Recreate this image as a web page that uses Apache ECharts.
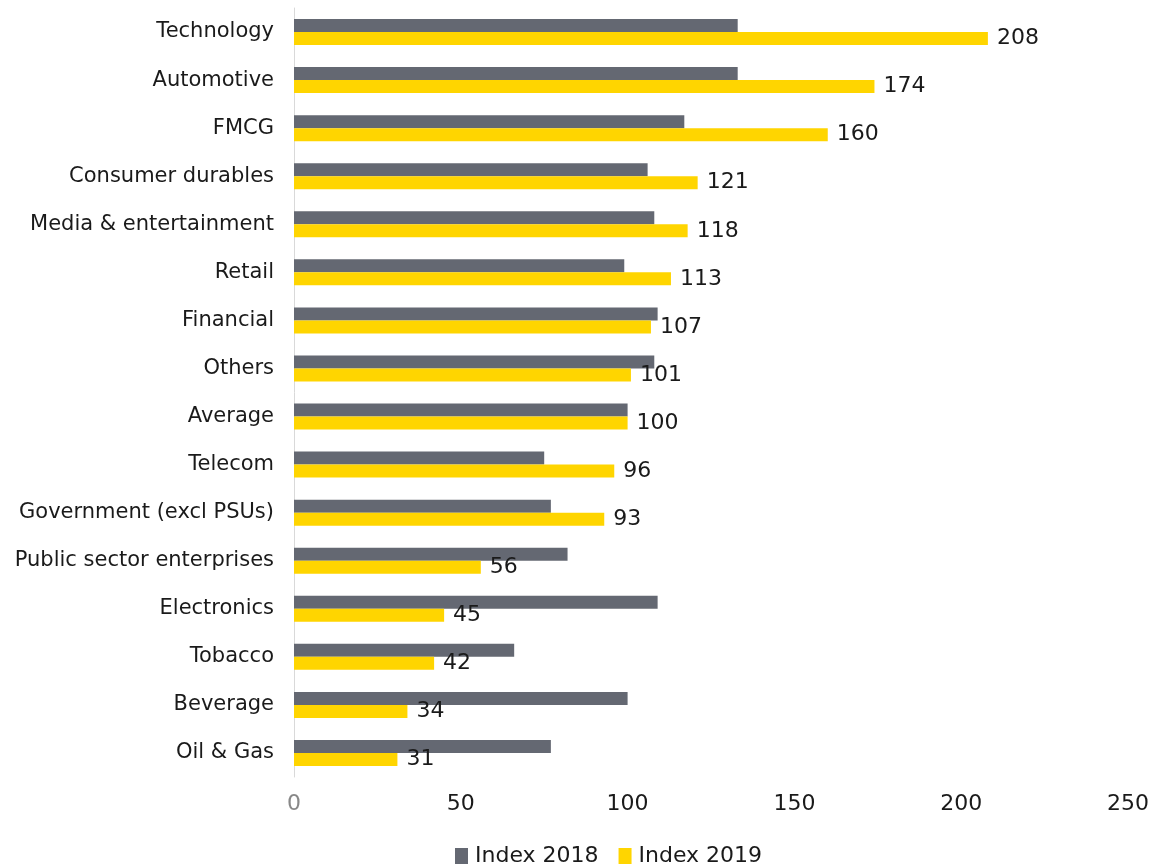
<!DOCTYPE html>
<html>
<head>
<meta charset="utf-8">
<script src="https://cdn.jsdelivr.net/npm/echarts@6/dist/echarts.min.js"></script>
<style>
  html, body { margin: 0; padding: 0; background: #fff; }
  #chart { width: 1159px; height: 868px; }
</style>
</head>
<body>
<div id="chart"></div>
<script>
const categories = ['Technology', 'Automotive', 'FMCG', 'Consumer durables', 'Media & entertainment',
  'Retail', 'Financial', 'Others', 'Average', 'Telecom', 'Government (excl PSUs)',
  'Public sector enterprises', 'Electronics', 'Tobacco', 'Beverage', 'Oil & Gas']
const index2018 = [133, 133, 117, 106, 108, 99, 109, 108, 100, 75, 77, 82, 109, 66, 100, 77]
const index2019 = [208, 174, 160, 121, 118, 113, 107, 101, 100, 96, 93, 56, 45, 42, 34, 31]
const xTicks = [0, 50, 100, 150, 200, 250]

const font = 'DejaVu Sans'
const myEcharts = echarts.init(document.getElementById('chart'))
myEcharts.setOption({
  animation: false,
  textStyle: { fontFamily: font },
  grid: { left: 294, right: 31, top: 8, bottom: 91, containLabel: false },
  legend: {
    top: 840,
    left: 450,
    itemWidth: 13,
    itemHeight: 16,
    itemGap: 20,
    icon: 'rect',
    textStyle: { fontSize: 22, color: '#1a1a1a', fontFamily: font, padding: [0, 0, 0, 2] },
    data: ['Index 2018', 'Index 2019']
  },
  xAxis: {
    type: 'value',
    min: xTicks[0],
    max: xTicks[xTicks.length - 1],
    interval: 50,
    axisLine: { show: false },
    axisTick: { show: false },
    splitLine: { show: false },
    axisLabel: {
      fontSize: 22,
      margin: 16,
      color: '#1a1a1a',
      formatter: v => v === 0 ? '{z|0}' : String(v),
      rich: { z: { color: '#888', fontSize: 22, fontFamily: font } }
    }
  },
  yAxis: {
    type: 'category',
    inverse: true,
    data: categories,
    axisLine: { show: true, lineStyle: { color: '#d9d9d9', width: 1 } },
    axisTick: { show: false },
    axisLabel: { fontSize: 21, color: '#1a1a1a', margin: 20 }
  },
  series: [
    {
      name: 'Index 2018',
      type: 'bar',
      data: index2018,
      barWidth: 13,
      barGap: '0%',
      itemStyle: { color: '#646872' }
    },
    {
      name: 'Index 2019',
      type: 'bar',
      data: index2019,
      barWidth: 13,
      barGap: '0%',
      itemStyle: { color: '#FFD500' },
      label: {
        show: true,
        position: 'right',
        distance: 9,
        fontSize: 22,
        color: '#1a1a1a'
      }
    }
  ]
})
</script>
</body>
</html>
